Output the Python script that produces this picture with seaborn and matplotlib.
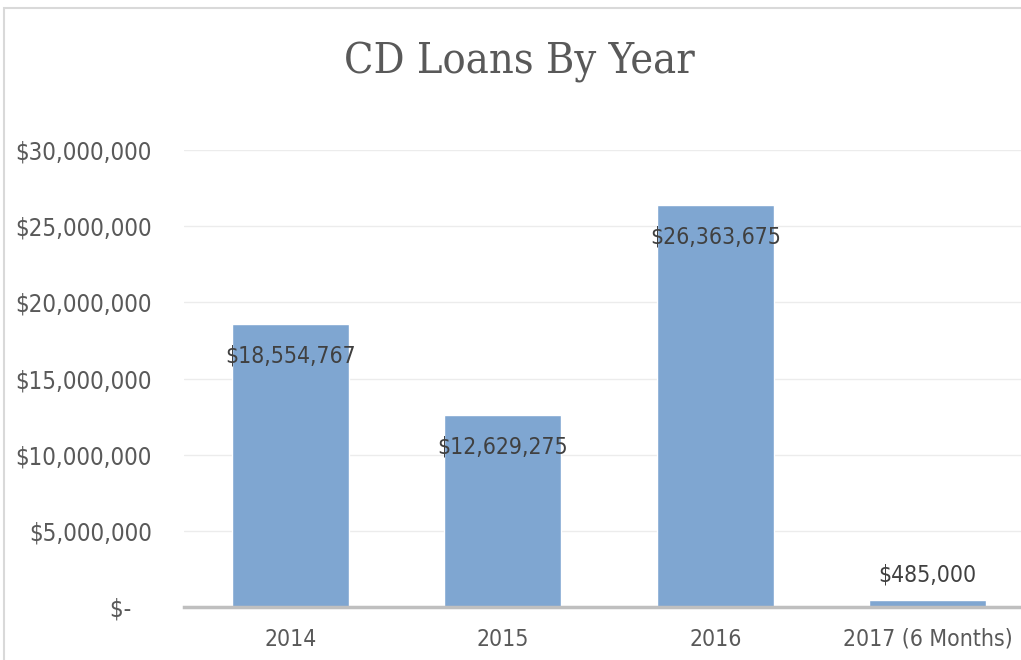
import matplotlib
matplotlib.use("Agg")
import matplotlib.pyplot as plt
import seaborn as sns
import pandas as pd
from matplotlib.patches import Rectangle
from matplotlib.ticker import FuncFormatter, MultipleLocator

categories = ["2014", "2015", "2016", "2017 (6 Months)"]
values = [18554767, 12629275, 26363675, 485000]
value_labels = ["$18,554,767", "$12,629,275", "$26,363,675", "$485,000"]

sns.set_style("white")
plt.rcParams['font.family'] = ['DejaVu Sans']
plt.rcParams['font.stretch'] = 'condensed'

fig = plt.figure(figsize=(10.21, 6.60), dpi=100)
W, H = 1021, 660
# outer chart border
fig.patches.append(Rectangle((4 / W, -0.1), 1.2, (H - 8) / H + 0.1, transform=fig.transFigure,
                             fill=False, edgecolor="#d9d9d9", linewidth=1.5))

ax = fig.add_axes([184 / W, (H - 607) / H, (1034 - 184) / W, (607 - 150) / H])
df = pd.DataFrame({"cat": categories, "val": values})
sns.barplot(data=df, x="cat", y="val", ax=ax, color="#7fa6d1", width=0.55, saturation=1)

ax.set_ylim(0, 30000000)
ax.set_xlim(-0.5, 3.5)
ax.yaxis.set_major_locator(MultipleLocator(5000000))
ax.yaxis.set_major_formatter(FuncFormatter(lambda v, p: "$-   " if v == 0 else f"${v:,.0f}"))
ax.grid(axis="y", color="#ececec", linewidth=1)
ax.set_axisbelow(True)
for s in ["top", "right", "left"]:
    ax.spines[s].set_visible(False)
ax.spines["bottom"].set_color("#bfbfbf")
ax.spines["bottom"].set_linewidth(2.5)
ax.set_xlabel("")
ax.set_ylabel("")
ax.tick_params(axis="y", labelsize=17.2, colors="#595959", length=0, pad=23)
ax.tick_params(axis="x", labelsize=16.5, colors="#595959", length=0, pad=15)

for i, (v, lab) in enumerate(zip(values, value_labels)):
    if v > 3000000:
        ax.annotate(lab, (i, v), xytext=(0, -23), textcoords="offset points",
                    ha="center", va="center", fontsize=16.5, color="#404040")
    else:
        ax.annotate(lab, (i, v), xytext=(0, 18), textcoords="offset points",
                    ha="center", va="center", fontsize=16.5, color="#404040")

fig.text(519 / W, 1 - 62 / H, "CD Loans By Year", ha="center", va="center",
         fontsize=31, color="#595959", family=["DejaVu Serif"],
         fontstretch="condensed")

fig.savefig("out.png", dpi=100)
